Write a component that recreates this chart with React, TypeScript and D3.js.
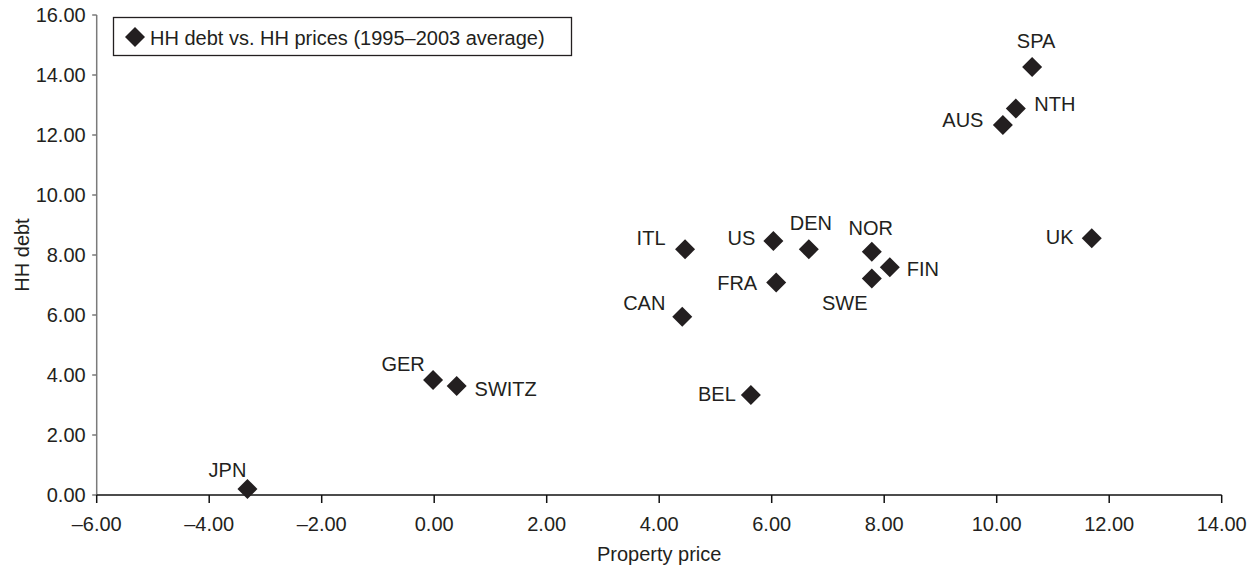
import React from "react";
import * as d3 from "d3";

const countries = ["JPN", "GER", "SWITZ", "CAN", "ITL", "BEL", "US", "FRA", "DEN", "NOR", "SWE", "FIN", "AUS", "NTH", "SPA", "UK"];
const propertyPrice = [-3.32, -0.02, 0.4, 4.41, 4.46, 5.63, 6.03, 6.08, 6.66, 7.78, 7.78, 8.1, 10.11, 10.34, 10.63, 11.69];
const hhDebt = [0.2, 3.83, 3.63, 5.94, 8.19, 3.33, 8.47, 7.08, 8.19, 8.11, 7.22, 7.59, 12.33, 12.88, 14.27, 8.56];
const xTicks = [-6, -4, -2, 0, 2, 4, 6, 8, 10, 12, 14];
const yTicks = [0, 2, 4, 6, 8, 10, 12, 14, 16];
const legendLabel = "HH debt vs. HH prices (1995–2003 average)";
const xTitle = "Property price";
const yTitle = "HH debt";

// label placement relative to marker centre (layout only)
const labelOffsets: Record<string, [number, number]> = {
  JPN: [-20, -12],
  GER: [-30, -9],
  SWITZ: [49, 10],
  CAN: [-38, -7],
  ITL: [-34, -4],
  BEL: [-34, 6],
  US: [-32, 4],
  FRA: [-39, 7],
  DEN: [2, -19],
  NOR: [-1, -17],
  SWE: [-27, 32],
  FIN: [33, 9],
  AUS: [-40, 2],
  NTH: [39, 2],
  SPA: [4, -19],
  UK: [-32, 6],
};

const W = 1260;
const H = 569;
const FONT = "'Liberation Sans', Arial, Helvetica, sans-serif";
const FS = 20;
const INK = "#231f20";

const fmt = (v: number) => (v < 0 ? "–" + Math.abs(v).toFixed(2) : v.toFixed(2));
const diamond = (r: number) => `M0,${-r}L${r},0L0,${r}L${-r},0Z`;

export default function App() {
  const x = d3.scaleLinear().domain([-6, 14]).range([96.7, 1221.7]);
  const y = d3.scaleLinear().domain([0, 16]).range([495, 15]);
  const [x0, x1] = x.range();
  const [y0, y1] = y.range();

  return (
    <svg width={W} height={H} style={{ position: "absolute", left: 0, top: 0, background: "#fff" }} fontFamily={FONT}>
      <rect x={0} y={0} width={W} height={H} fill="#fff" />
      {/* y axis */}
      <line x1={x0} x2={x0} y1={y1} y2={y0} stroke="#7a7a7a" strokeWidth={1.5} />
      {yTicks.map((t) => (
        <g key={"y" + t}>
          <line x1={x0 - 4.5} x2={x0} y1={y(t)} y2={y(t)} stroke="#7a7a7a" strokeWidth={1.5} />
          <text x={x0 - 11} y={y(t) + 7} textAnchor="end" fontSize={FS} fill={INK}>
            {fmt(t)}
          </text>
        </g>
      ))}
      {/* x axis */}
      <line x1={x0} x2={x1} y1={y0} y2={y0} stroke="#111" strokeWidth={1.5} />
      {xTicks.map((t) => (
        <g key={"x" + t}>
          <line x1={x(t)} x2={x(t)} y1={y0} y2={y0 + 8} stroke="#111" strokeWidth={1.5} />
          <text x={x(t)} y={531} textAnchor="middle" fontSize={FS} fill={INK}>
            {fmt(t)}
          </text>
        </g>
      ))}
      <text x={(x0 + x1) / 2} y={561} textAnchor="middle" fontSize={FS} fill={INK}>
        {xTitle}
      </text>
      <text transform={`translate(28.5,${(y0 + y1) / 2}) rotate(-90)`} textAnchor="middle" fontSize={FS} fill={INK}>
        {yTitle}
      </text>
      {/* points */}
      {countries.map((c, i) => {
        const cx = x(propertyPrice[i]);
        const cy = y(hhDebt[i]);
        const [dx, dy] = labelOffsets[c];
        return (
          <g key={c}>
            <path d={diamond(10)} transform={`translate(${cx},${cy})`} fill={INK} />
            <text x={cx + dx} y={cy + dy} textAnchor="middle" fontSize={FS} fill={INK}>
              {c}
            </text>
          </g>
        );
      })}
      {/* legend */}
      <rect x={113.5} y={17.5} width={458} height={38} fill="#fff" stroke={INK} strokeWidth={1.3} />
      <path d={diamond(10)} transform="translate(135,37)" fill={INK} />
      <text x={150} y={44.5} fontSize={FS} fill={INK}>
        {legendLabel}
      </text>
    </svg>
  );
}
